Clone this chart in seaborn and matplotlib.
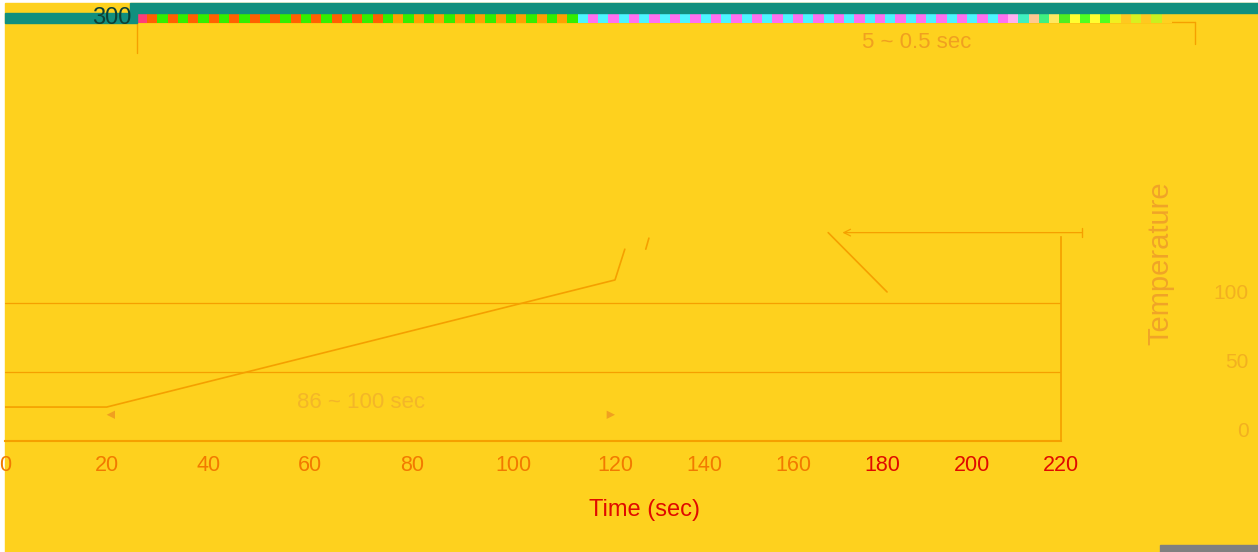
import numpy as np
import pandas as pd
import seaborn as sns
import matplotlib.pyplot as plt
from matplotlib.patches import Rectangle

# Profile, split into the visible segments
time_s = [0, 20, 120, 122.2, 126.9, 127.6, 167.8, 181]
temp_c = [24.6, 24.6, 116.7, 139, 139, 147, 151, 108]
segment = [0, 0, 0, 0, 1, 1, 2, 2]

x_ticks = [0, 20, 40, 60, 80, 100, 120, 140, 160, 180, 200, 220]
x_tick_colors = ['#F27A00'] * 9 + ['#E00A00'] * 3
y_ticks = [0, 50, 100]

# glitch stripe colours along the top
stripe_a = ['#FF3C78'] + ['#FF6000', '#33EE00'] * 12 + ['#FFA000', '#33EE00'] * 9
stripe_b = ['#4DF5FF', '#FF70F0'] * 21
stripe_c = ['#FFB0F0', '#40F0C0', '#FFC890', '#40F080', '#FFE860', '#50EE20',
            '#FFFF30', '#50FF20', '#FFFF30', '#50FF20', '#F0F020', '#FFC820',
            '#D8F020', '#FFC820', '#C8F020', '#FFD020']

YELLOW = '#FED11E'
ORANGE = '#F5A000'
TEAL = '#118F7E'

sns.set_theme(style='white')
plt.rcParams['font.family'] = ['Liberation Sans', 'DejaVu Sans']

W, H = 1258, 552
fig = plt.figure(figsize=(W / 100, H / 100), dpi=100, facecolor='white')
fig.add_artist(Rectangle((5 / W, 0), 1 - 5 / W, 1 - 3 / H, transform=fig.transFigure,
                         color=YELLOW, zorder=-10))

ax = fig.add_axes([5 / W, 111 / H, 1056 / W, 414 / H])
ax.set_facecolor('none')

df = pd.DataFrame({'time': time_s, 'temp': temp_c, 'seg': segment})
sns.lineplot(data=df, x='time', y='temp', units='seg', estimator=None,
             color=ORANGE, lw=1.2, ax=ax)


# x axis is stretched before 120 s and squeezed after it
def fwd(t):
    t = np.asarray(t, dtype=float)
    return np.where(t <= 120, t * 610 / 120, 610 + (t - 120) * 4.46)


def inv(p):
    p = np.asarray(p, dtype=float)
    return np.where(p <= 610, p * 120 / 610, 120 + (p - 610) / 4.46)


ax.set_xscale('function', functions=(fwd, inv))
ax.set_xlim(0, 220)
ax.set_ylim(0, 300)

ax.set_xticks(x_ticks)
ax.set_xticklabels([str(v) for v in x_ticks])
ax.tick_params(axis='x', direction='in', length=5, width=1, color=ORANGE,
               pad=10, labelsize=15.5)
for lbl, c in zip(ax.get_xticklabels(), x_tick_colors):
    lbl.set_color(c)

ax.yaxis.tick_right()
ax.set_yticks(y_ticks)
ax.set_yticklabels([str(v) for v in y_ticks])
ax.tick_params(axis='y', length=0, pad=135, labelsize=15, labelcolor='#F2B020')
for lbl in ax.get_yticklabels():
    lbl.set_ha('right')
    lbl.set_va('bottom')

ax.yaxis.grid(True, color=ORANGE, lw=0.9)
ax.xaxis.grid(False)
for side in ['left', 'top']:
    ax.spines[side].set_visible(False)
ax.spines['bottom'].set_color(ORANGE)
ax.spines['bottom'].set_linewidth(1.5)
ax.spines['right'].set_color(ORANGE)
ax.spines['right'].set_bounds(0, 148)

ax.set_xlabel('Time (sec)', fontsize=17, color='#E00A00')
ax.xaxis.set_label_coords(0.606, -0.14)
ax.yaxis.set_label_position('right')
ax.set_ylabel('Temperature', fontsize=21, color='#F0A428', rotation=90)
ax.yaxis.set_label_coords(1.081, 0.43)

# annotations
ax.annotate('', xy=(20, 19), xytext=(120, 19),
            arrowprops=dict(arrowstyle='<|-|>,head_length=0.5,head_width=0.25',
                            color='#F0A020', lw=0, shrinkA=0, shrinkB=0))
ax.text(70, 28, '86 ~ 100 sec', ha='center', va='center', fontsize=16, color='#F3B628')
ax.text(175.4, 289, '5 ~ 0.5 sec', ha='left', va='center', fontsize=16, color='#F0A020',
        clip_on=False)

ax.plot([26, 250], [303.6, 303.6], color=ORANGE, lw=1, clip_on=False)
ax.plot([26, 26], [303.6, 281], color=ORANGE, lw=1, clip_on=False)
ax.plot([250, 250], [303.6, 288], color=ORANGE, lw=1, clip_on=False)

ax.annotate('', xy=(171, 151), xytext=(224.7, 151), annotation_clip=False,
            arrowprops=dict(arrowstyle='->', color=ORANGE, lw=0.9, shrinkA=0, shrinkB=0))
ax.plot([224.7, 224.7], [147.5, 154.5], color=ORANGE, lw=1, clip_on=False)

# teal band and the colour stripe at the top
fig.add_artist(Rectangle((130 / W, 1 - 13 / H), 1128 / W, 10 / H,
                         transform=fig.transFigure, color=TEAL, zorder=5))
fig.add_artist(Rectangle((5 / W, 1 - 23 / H), 132 / W, 10 / H,
                         transform=fig.transFigure, color=TEAL, zorder=5))
stripe = [plt.matplotlib.colors.to_rgb(c) for c in stripe_a + stripe_b + stripe_c]
sax = fig.add_axes([137 / W, 1 - 23 / H, 1035 / W, 10 / H])
sax.imshow(np.array([stripe]), aspect='auto', interpolation='nearest')
sax.axis('off')

fig.text(131 / W, 1 - 18 / H, '300', ha='right', va='center', fontsize=17,
         color='#0D3F35', zorder=30)

fig.add_artist(Rectangle((1160 / W, 0), 98 / W, 7 / H,
                         transform=fig.transFigure, color='#808080', zorder=5))

fig.savefig('out.png', dpi=100, facecolor=fig.get_facecolor())
